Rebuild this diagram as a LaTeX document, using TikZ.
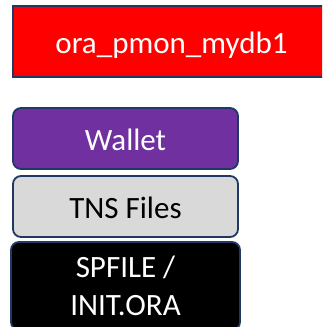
\documentclass[tikz,border=0pt]{standalone}
\usepackage{fontspec}
\setmainfont{Carlito}
\definecolor{edgeblue}{HTML}{1F3864}
\definecolor{pmonred}{HTML}{FF0000}
\definecolor{walletpurple}{HTML}{7030A0}
\definecolor{tnsgray}{HTML}{D9D9D9}
\tikzset{
  box/.style={draw=edgeblue, line width=1.8pt, inner sep=0pt, align=center,
    font=\fontsize{31}{38}\selectfont},
  onerow/.style={text height=24pt, text depth=0pt},
  layer/.style={box, rounded corners=8pt, minimum width=225pt, minimum height=61pt},
}
\begin{document}
\begin{tikzpicture}[x=1pt, y=-1pt]
  \useasboundingbox (0,0) rectangle (322,327);
  \clip (0,0) rectangle (322,327);
  % process box, running off the right edge
  \node[box, onerow, fill=pmonred, text=white, minimum width=317pt, minimum height=71pt]
    (pmon) at (171.5,41.5) {ora\_pmon\_mydb1};
  % stacked configuration layers
  \node[layer, onerow, fill=walletpurple, text=white] (wallet) at (125.5,138.5) {Wallet};
  \node[layer, onerow, fill=tnsgray, text=black] (tns) at (125.5,206.5) {TNS Files};
  \node[layer, fill=black, text=white, minimum width=229pt, minimum height=88pt]
    (spfile) at (125.5,286) {SPFILE /\\INIT.ORA};
\end{tikzpicture}
\end{document}
